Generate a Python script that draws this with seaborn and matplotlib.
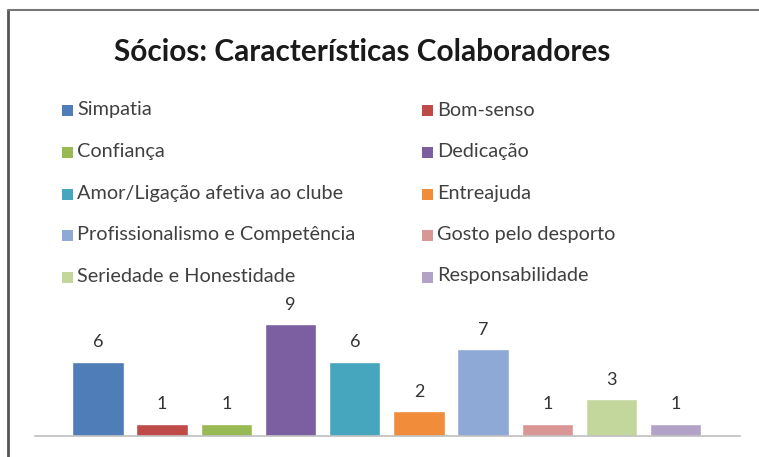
import matplotlib
matplotlib.use("Agg")
import matplotlib.pyplot as plt
import seaborn as sns
import pandas as pd
from matplotlib.lines import Line2D
from matplotlib.patches import Rectangle

categories = ["Simpatia", "Bom-senso", "Confiança", "Dedicação",
              "Amor/Ligação afetiva ao clube", "Entreajuda",
              "Profissionalismo e Competência", "Gosto pelo desporto",
              "Seriedade e Honestidade", "Responsabilidade"]
values = [6, 1, 1, 9, 6, 2, 7, 1, 3, 1]
colors = ["#4F7DB8", "#BE4B48", "#98B954", "#7B5FA0", "#46A6BE",
          "#F08C3A", "#8EA9D6", "#D99694", "#C3D69B", "#B3A2C7"]
title = "Sócios: Características Colaboradores"

sns.set_theme(style="white")
plt.rcParams['font.family'] = ['Lato', 'DejaVu Sans']

df = pd.DataFrame({"cat": categories, "val": values})

W, H = 759, 457
fig = plt.figure(figsize=(W/100, H/100), dpi=100)
fig.patch.set_facecolor("white")
renderer = fig.canvas.get_renderer()

def fx(x):
    return x / W

def fy(y):
    return 1 - y / H

def fit(text_obj, target_w):
    w = text_obj.get_window_extent(renderer).width
    text_obj.set_fontsize(text_obj.get_fontsize() * target_w / w)

ax = fig.add_axes([fx(35), fy(436), (740 - 35) / W, 124 / H])
sns.barplot(data=df, x="cat", y="val", hue="cat", order=categories,
            hue_order=categories, palette=colors, width=0.8,
            saturation=1, legend=False, ax=ax)
ax.set_xlim(-0.98, 10.0)
ax.set_ylim(0, 10)
for c in ax.containers:
    ax.bar_label(c, padding=8, fontsize=13, color="#333333", clip_on=False)
for s in ["top", "right", "left"]:
    ax.spines[s].set_visible(False)
ax.spines["bottom"].set_color("#BFBFBF")
ax.spines["bottom"].set_linewidth(1.2)
ax.set_xticks([])
ax.set_yticks([])
ax.set_xlabel("")
ax.set_ylabel("")

t = fig.text(fx(362), fy(52), title, ha="center", va="center",
             fontsize=20, fontweight="bold", color="#1a1a1a")
fit(t, 497)

# legend (row-major, two columns)
probe = fig.text(0, 0, categories[4], fontsize=12)
fit(probe, 265)
leg_fs = probe.get_fontsize()
probe.remove()
col_sq_x = [62, 422]
row_y0, row_pitch = 110, 41.5
sq = 11
for i, (cat, col) in enumerate(zip(categories, colors)):
    r, cidx = divmod(i, 2)
    yc = row_y0 + r * row_pitch
    x0 = col_sq_x[cidx]
    fig.add_artist(Rectangle((fx(x0), fy(yc + sq / 2 + 1)), sq / W, sq / H,
                             transform=fig.transFigure, facecolor=col,
                             edgecolor="none"))
    fig.text(fx(x0 + sq + 4), fy(yc), cat, ha="left", va="center",
             fontsize=leg_fs, color="#404040")

fig.add_artist(Line2D([fx(8), fx(8)], [0, fy(10)], transform=fig.transFigure,
                      color="#555555", linewidth=2))
fig.add_artist(Line2D([fx(8), 1], [fy(10), fy(10)], transform=fig.transFigure,
                      color="#777777", linewidth=1.5))

fig.savefig("out.png", dpi=100, facecolor="white")
